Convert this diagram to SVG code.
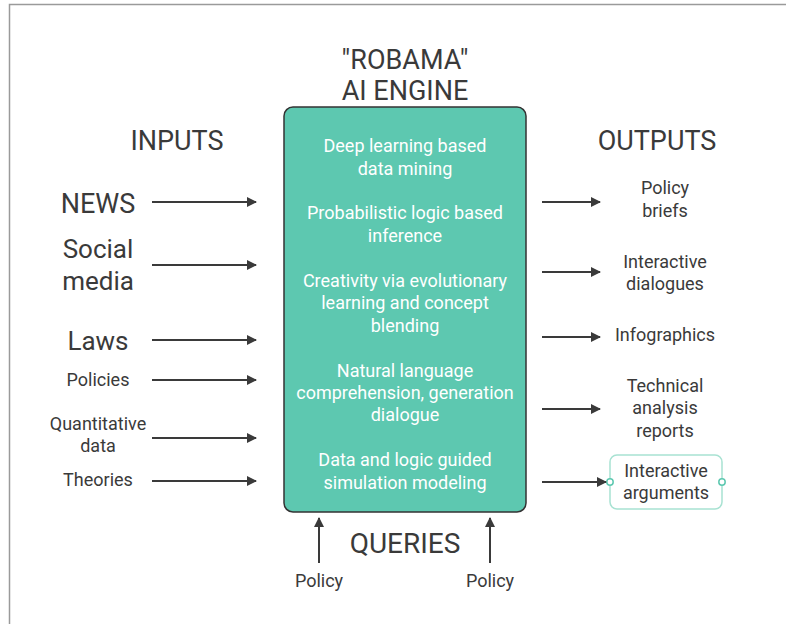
<svg xmlns="http://www.w3.org/2000/svg" width="786" height="624" viewBox="0 0 786 624">
  <style>
    .t { font-family: Roboto, "Liberation Sans", sans-serif; fill: #3a3a3a; text-anchor: middle; }
    .w { font-family: Roboto, "Liberation Sans", sans-serif; fill: #ffffff; text-anchor: middle; font-size: 18px; }
    .big { font-size: 26px; }
    .cap { font-size: 27px; }
    .hd { font-size: 27px; }
    .md { font-size: 18px; }
    .sm { font-size: 18px; }
    .arr { stroke: #3a3a3a; stroke-width: 2; fill: none; marker-end: url(#ah); }
  </style>
  <defs>
    <marker id="ah" viewBox="0 0 10 10" refX="9" refY="5" markerWidth="5" markerHeight="5" orient="auto" markerUnits="strokeWidth">
      <path d="M0,0 L10,5 L0,10 z" fill="#3a3a3a"/>
    </marker>
  </defs>
  <rect width="786" height="624" fill="#ffffff"/>
  <!-- frame -->
  <path d="M9.5,630 L9.5,4.5 L790,4.5" fill="none" stroke="#9a9a9a" stroke-width="1.5"/>

  <!-- headings -->
  <g id="title">
    <text class="t cap" x="405" y="69">"ROBAMA"</text>
    <text class="t cap" x="405" y="100">AI ENGINE</text>
  </g>
  <text class="t hd" x="177" y="150">INPUTS</text>
  <text class="t hd" x="657" y="150">OUTPUTS</text>

  <!-- engine -->
  <g id="engine">
    <rect x="284" y="107" width="242" height="405" rx="9" fill="#5dc8b0" stroke="#333333" stroke-width="1.5"/>
    <text class="w" x="405" y="152">Deep learning based</text>
    <text class="w" x="405" y="175">data mining</text>
    <text class="w" x="405" y="219">Probabilistic logic based</text>
    <text class="w" x="405" y="242">inference</text>
    <text class="w" x="405" y="287">Creativity via evolutionary</text>
    <text class="w" x="405" y="309">learning and concept</text>
    <text class="w" x="405" y="332">blending</text>
    <text class="w" x="405" y="377">Natural language</text>
    <text class="w" x="405" y="399">comprehension, generation</text>
    <text class="w" x="405" y="421">dialogue</text>
    <text class="w" x="405" y="466">Data and logic guided</text>
    <text class="w" x="405" y="489">simulation modeling</text>
  </g>

  <!-- inputs -->
  <g id="in-news"><text class="t cap" x="98" y="213">NEWS</text></g>
  <g id="in-social"><text class="t big" x="98" y="258">Social</text><text class="t big" x="98" y="290">media</text></g>
  <g id="in-laws"><text class="t big" x="98" y="350">Laws</text></g>
  <g id="in-policies"><text class="t sm" x="98" y="386">Policies</text></g>
  <g id="in-quant"><text class="t sm" x="98" y="430">Quantitative</text><text class="t sm" x="98" y="452">data</text></g>
  <g id="in-theories"><text class="t sm" x="98" y="486">Theories</text></g>

  <!-- outputs -->
  <g id="out-briefs"><text class="t md" x="665" y="194">Policy</text><text class="t md" x="665" y="217">briefs</text></g>
  <g id="out-dialogues"><text class="t md" x="665" y="268">Interactive</text><text class="t md" x="665" y="290">dialogues</text></g>
  <g id="out-infographics"><text class="t md" x="665" y="341">Infographics</text></g>
  <g id="out-reports"><text class="t md" x="665" y="392">Technical</text><text class="t md" x="665" y="414">analysis</text><text class="t md" x="665" y="437">reports</text></g>
  <g id="out-arguments">
    <rect x="610" y="455" width="112" height="54" rx="7" fill="#ffffff" stroke="#a8e2d2" stroke-width="1.5"/>
    <circle cx="610" cy="482" r="3.2" fill="#ffffff" stroke="#5dc8b0" stroke-width="1.5"/>
    <circle cx="722" cy="482" r="3.2" fill="#ffffff" stroke="#5dc8b0" stroke-width="1.5"/>
    <text class="t md" x="666" y="477">Interactive</text>
    <text class="t md" x="666" y="499">arguments</text>
  </g>

  <!-- queries -->
  <g id="queries">
    <text class="t" font-size="28" x="405" y="553">QUERIES</text>
    <text class="t sm" x="319" y="587">Policy</text>
    <text class="t sm" x="490" y="587">Policy</text>
  </g>

  <g id="connectors">
    <line class="arr" x1="152" y1="202" x2="256" y2="202"/>
    <line class="arr" x1="152" y1="265" x2="256" y2="265"/>
    <line class="arr" x1="152" y1="340" x2="256" y2="340"/>
    <line class="arr" x1="152" y1="380" x2="256" y2="380"/>
    <line class="arr" x1="152" y1="438" x2="256" y2="438"/>
    <line class="arr" x1="152" y1="481" x2="256" y2="481"/>
    <line class="arr" x1="542" y1="202" x2="600" y2="202"/>
    <line class="arr" x1="542" y1="272" x2="600" y2="272"/>
    <line class="arr" x1="542" y1="337" x2="600" y2="337"/>
    <line class="arr" x1="542" y1="409" x2="600" y2="409"/>
    <line class="arr" x1="542" y1="482" x2="606" y2="482"/>
    <line class="arr" x1="319" y1="563" x2="319" y2="518"/>
    <line class="arr" x1="490" y1="563" x2="490" y2="518"/>
  </g>
</svg>
